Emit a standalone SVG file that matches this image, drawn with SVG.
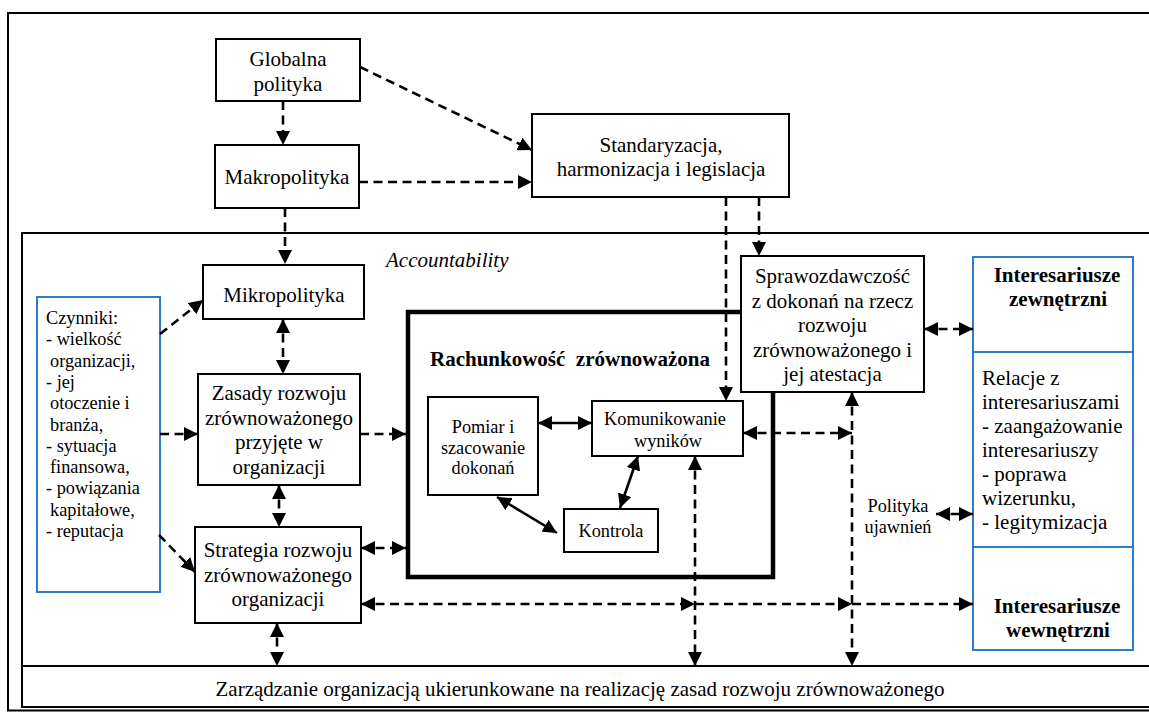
<svg xmlns="http://www.w3.org/2000/svg" width="1149" height="713" viewBox="0 0 1149 713">
<style>
text{font-family:"Liberation Serif","Times New Roman",serif;fill:#000}
.t21{font-size:21px}
.t18{font-size:18.3px}
.c{text-anchor:middle}
.b{font-weight:bold}
.box{fill:#fff;stroke:#000;stroke-width:2}
.blue{fill:#fff;stroke:#2e7bc6;stroke-width:2}
.frame{fill:none;stroke:#000;stroke-width:2}
.d{fill:none;stroke:#000;stroke-width:2.6;stroke-dasharray:9,5.5}
.s{fill:none;stroke:#000;stroke-width:2.6}
</style>
<defs>
<marker id="ah" viewBox="0 0 10 10" refX="10" refY="5" markerUnits="userSpaceOnUse" markerWidth="14" markerHeight="14" orient="auto-start-reverse">
<path d="M0,0 L10,5 L0,10 z" fill="#000"/>
</marker>
</defs>
<g id="frames">
<rect x="8" y="13" width="1160" height="697.5" class="frame"/>
<rect x="22" y="233" width="1150" height="474" class="frame"/>
</g>
<g id="zarzadzanie">
<rect x="22" y="666" width="1150" height="41" class="box"/>
<text x="580" y="696" class="t21 c">Zarządzanie organizacją ukierunkowane na realizację zasad rozwoju zrównoważonego</text>
</g>
<g id="accountability">
<text x="386" y="267" class="t21" font-style="italic">Accountability</text>
</g>
<g id="globalna">
<rect x="216" y="39" width="144" height="62" class="box"/>
<text x="288" y="66" class="t21 c">Globalna</text>
<text x="288" y="91" class="t21 c">polityka</text>
</g>
<g id="makro">
<rect x="215" y="145" width="144" height="63" class="box"/>
<text x="287" y="184" class="t21 c">Makropolityka</text>
</g>
<g id="standaryzacja">
<rect x="532" y="114" width="257" height="83" class="box"/>
<text x="661" y="152" class="t21 c">Standaryzacja,</text>
<text x="661" y="176" class="t21 c">harmonizacja i legislacja</text>
</g>
<g id="mikro">
<rect x="203" y="265" width="161" height="54" class="box"/>
<text x="284" y="302" class="t21 c">Mikropolityka</text>
</g>
<g id="czynniki">
<rect x="37" y="297" width="123" height="295" class="blue"/>
<text x="46" y="324" class="t18">Czynniki:</text>
<text x="46" y="345.3" class="t18">- wielkość</text>
<text x="50" y="366.6" class="t18">organizacji,</text>
<text x="46" y="387.9" class="t18">- jej</text>
<text x="50" y="409.2" class="t18">otoczenie i</text>
<text x="50" y="430.5" class="t18">branża,</text>
<text x="46" y="451.8" class="t18">- sytuacja</text>
<text x="50" y="473.1" class="t18">finansowa,</text>
<text x="46" y="494.4" class="t18">- powiązania</text>
<text x="50" y="515.7" class="t18">kapitałowe,</text>
<text x="46" y="537" class="t18">- reputacja</text>
</g>
<g id="zasady">
<rect x="198" y="374" width="162" height="111" class="box"/>
<text x="279" y="400" class="t21 c">Zasady rozwoju</text>
<text x="279" y="424.5" class="t21 c">zrównoważonego</text>
<text x="279" y="449" class="t21 c">przyjęte w</text>
<text x="279" y="473.5" class="t21 c">organizacji</text>
</g>
<g id="strategia">
<rect x="195" y="527" width="166" height="96" class="box"/>
<text x="278" y="557" class="t21 c">Strategia rozwoju</text>
<text x="278" y="581.5" class="t21 c">zrównoważonego</text>
<text x="278" y="606" class="t21 c">organizacji</text>
</g>
<g id="rachunkowosc">
<rect x="408" y="312" width="365" height="265" fill="none" stroke="#000" stroke-width="4.5"/>
<text x="430" y="366" class="t21 b">Rachunkowość&#160; zrównoważona</text>
</g>
<g id="pomiar">
<rect x="428" y="397" width="110" height="98" class="box"/>
<text x="483" y="433" class="t18 c">Pomiar i</text>
<text x="483" y="453.5" class="t18 c">szacowanie</text>
<text x="483" y="474" class="t18 c">dokonań</text>
</g>
<g id="komunikowanie">
<rect x="592" y="401" width="151" height="55" class="box"/>
<text x="665" y="425" class="t18 c">Komunikowanie</text>
<text x="668" y="447" class="t18 c">wyników</text>
</g>
<g id="kontrola">
<rect x="564" y="509" width="94" height="43" class="box"/>
<text x="611" y="537" class="t18 c">Kontrola</text>
</g>
<g id="sprawozdawczosc">
<rect x="741" y="256" width="183" height="136" class="box"/>
<text x="832.5" y="283" class="t21 c">Sprawozdawczość</text>
<text x="832.5" y="307.5" class="t21 c">z dokonań na rzecz</text>
<text x="832.5" y="332" class="t21 c">rozwoju</text>
<text x="832.5" y="356.5" class="t21 c">zrównoważonego i</text>
<text x="832.5" y="381" class="t21 c">jej atestacja</text>
</g>
<g id="polityka-ujawnien">
<text x="898" y="512" class="t18 c">Polityka</text>
<text x="898" y="533" class="t18 c">ujawnień</text>
</g>
<g id="interesariusze-zewnetrzni">
<rect x="973" y="257" width="160" height="95" class="blue"/>
<text x="1057" y="282" class="t21 c b">Interesariusze</text>
<text x="1058" y="306" class="t21 c b">zewnętrzni</text>
</g>
<g id="relacje">
<rect x="973" y="352" width="160" height="195" class="blue"/>
<text x="982" y="385" class="t21">Relacje z</text>
<text x="982" y="409" class="t21">interesariuszami</text>
<text x="982" y="433" class="t21">- zaangażowanie</text>
<text x="982" y="457" class="t21">interesariuszy</text>
<text x="982" y="481" class="t21">- poprawa</text>
<text x="982" y="505" class="t21">wizerunku,</text>
<text x="982" y="529" class="t21">- legitymizacja</text>
</g>
<g id="interesariusze-wewnetrzni">
<rect x="973" y="547" width="160" height="103" class="blue"/>
<text x="1057" y="613" class="t21 c b">Interesariusze</text>
<text x="1058" y="637" class="t21 c b">wewnętrzni</text>
</g>
<g id="connectors">
<path class="d" d="M283,101 L283,145" marker-end="url(#ah)"/>
<path class="d" d="M285,208 L285,264" marker-end="url(#ah)"/>
<path class="d" d="M360,67 L532,150" marker-end="url(#ah)"/>
<path class="d" d="M359,182 L532,182" marker-end="url(#ah)"/>
<path class="d" d="M726,197 L726,401" marker-end="url(#ah)"/>
<path class="d" d="M759,197 L759,256" marker-end="url(#ah)"/>
<path class="d" d="M160,334 L203,300" marker-end="url(#ah)"/>
<path class="d" d="M160,434 L198,434" marker-end="url(#ah)"/>
<path class="d" d="M159,535 L195,572" marker-end="url(#ah)"/>
<path class="d" d="M283,319 L283,374" marker-start="url(#ah)" marker-end="url(#ah)"/>
<path class="d" d="M279,485 L279,527" marker-start="url(#ah)" marker-end="url(#ah)"/>
<path class="d" d="M277,623 L277,666" marker-start="url(#ah)" marker-end="url(#ah)"/>
<path class="d" d="M360,434 L406,434" marker-end="url(#ah)"/>
<path class="d" d="M361,548 L406,548" marker-start="url(#ah)" marker-end="url(#ah)"/>
<path class="d" d="M743,433 L852,433" marker-start="url(#ah)" marker-end="url(#ah)"/>
<path class="d" d="M695,456 L695,666" marker-start="url(#ah)" marker-end="url(#ah)"/>
<path class="d" d="M852,392 L852,666" marker-start="url(#ah)" marker-end="url(#ah)"/>
<path class="d" d="M361,604 L695,604" marker-start="url(#ah)" marker-end="url(#ah)"/>
<path class="d" d="M695,604 L852,604" marker-end="url(#ah)"/>
<path class="d" d="M852,604 L973,604" marker-end="url(#ah)"/>
<path class="d" d="M924,329 L973,329" marker-start="url(#ah)" marker-end="url(#ah)"/>
<path class="d" d="M936,514 L973,514" marker-start="url(#ah)" marker-end="url(#ah)"/>
<path class="s" d="M538,423 L592,423" marker-start="url(#ah)" marker-end="url(#ah)"/>
<path class="s" d="M638,456 L620,508" marker-start="url(#ah)" marker-end="url(#ah)"/>
<path class="s" d="M497,497 L557,533" marker-start="url(#ah)" marker-end="url(#ah)"/>
</g>
</svg>
